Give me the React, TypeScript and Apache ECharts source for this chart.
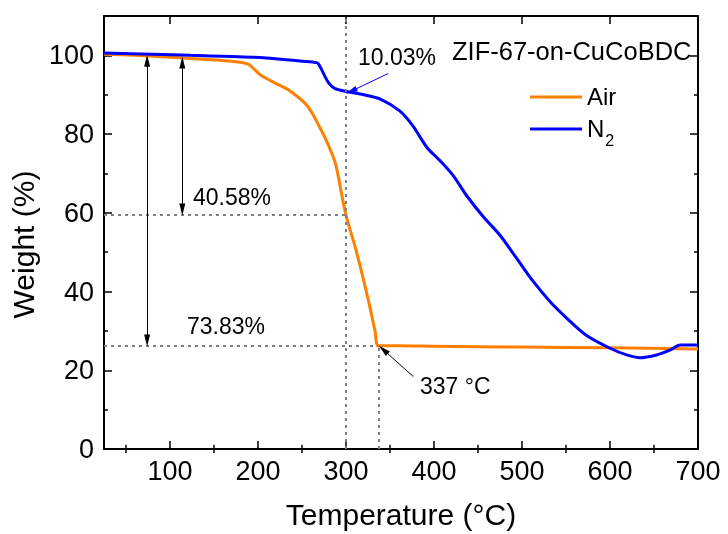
import React, { useEffect, useRef } from "react";
import * as echarts from "echarts";

const airTemp = [25, 60, 111, 153, 183, 190, 197, 204, 222, 236, 256, 270, 280, 288, 294, 300, 312, 325, 333, 337, 360, 400, 500, 600, 700];
const airWeight = [100.3, 100.0, 99.4, 98.8, 98.1, 97.6, 96.2, 94.8, 92.7, 91.0, 87.2, 81.8, 77.2, 72.5, 66.0, 59.4, 50.0, 38.2, 30.0, 26.2, 26.2, 26.1, 25.9, 25.7, 25.4];

const n2Temp = [25, 80, 123, 170, 206, 236, 262, 268, 274, 280, 287, 301, 320, 339, 361, 376, 392, 407, 422, 437, 456, 475, 494, 513, 532, 551, 573, 600, 619, 634, 653, 668, 680, 700];
const n2Weight = [100.6, 100.3, 100.0, 99.7, 99.4, 98.8, 98.3, 98.0, 95.6, 93.1, 91.6, 90.8, 90.0, 88.9, 85.9, 82.1, 76.6, 73.2, 69.4, 64.4, 59.0, 54.3, 48.4, 42.5, 37.4, 33.2, 28.9, 25.6, 23.9, 23.2, 23.9, 25.1, 26.4, 26.4];

const xMajorTicks = [100, 200, 300, 400, 500, 600, 700];
const xMinorTicks = [50, 150, 250, 350, 450, 550, 650];

const seriesNames = ["Air", "N2"];
const sampleLabel = "ZIF-67-on-CuCoBDC";

// annotation values (temperature °C, weight %)
const lossAt300 = 40.58; // air
const lossAt337 = 73.83; // air
const lossN2 = 10.03;
const residueT = 337;
const markT = 300;

const FONT = "Liberation Sans, Arial, sans-serif";

export default function App() {
  const ref = useRef<HTMLDivElement>(null);
  useEffect(() => {
    if (!ref.current) return;
    const chart = echarts.init(ref.current, null, { renderer: "svg" });
    const air = airTemp.map((t, i) => [t, airWeight[i]]);
    const n2 = n2Temp.map((t, i) => [t, n2Weight[i]]);
    const w300 = 100 - lossAt300;
    const w337 = 100 - lossAt337;

    const dotted = { type: [3, 4], color: "#7f7f7f", width: 2 };
    const black = { type: "solid", color: "#000", width: 1 };

    const tickMajor = { show: true, inside: true, length: 8, lineStyle: { color: "#000", width: 1.5 } };
    const tickMinor = { show: true, inside: true, length: 4, lineStyle: { color: "#000", width: 1.5 } };
    const axisLine = { show: true, onZero: false, lineStyle: { color: "#000", width: 2 } };

    const xBase = { type: "value", min: 25, max: 700, splitLine: { show: false } };

    chart.setOption({
      animation: false,
      textStyle: { fontFamily: FONT },
      grid: { left: 104, right: 30, top: 16, bottom: 83, containLabel: false },
      xAxis: [
        {
          ...xBase,
          position: "bottom",
          axisLine,
          axisTick: { ...tickMajor, customValues: xMajorTicks },
          axisLabel: { customValues: xMajorTicks, fontSize: 27, color: "#000", margin: 8, fontFamily: FONT },
          name: "Temperature (°C)",
          nameLocation: "middle",
          nameGap: 50,
          nameTextStyle: { fontSize: 30, color: "#000", fontFamily: FONT },
        },
        {
          ...xBase,
          position: "bottom",
          axisLine: { show: false },
          axisTick: { ...tickMinor, customValues: xMinorTicks },
          axisLabel: { show: false },
        },
        {
          ...xBase,
          position: "top",
          axisLine,
          axisTick: { ...tickMajor, customValues: xMajorTicks },
          axisLabel: { show: false },
        },
        {
          ...xBase,
          position: "top",
          axisLine: { show: false },
          axisTick: { ...tickMinor, customValues: xMinorTicks },
          axisLabel: { show: false },
        },
      ],
      yAxis: [
        {
          type: "value",
          min: 0,
          max: 110,
          interval: 20,
          position: "left",
          axisLine,
          axisTick: tickMajor,
          minorTick: { ...tickMinor, splitNumber: 2 },
          splitLine: { show: false },
          minorSplitLine: { show: false },
          axisLabel: { fontSize: 27, color: "#000", margin: 10, showMaxLabel: false, fontFamily: FONT },
          name: "Weight (%)",
          nameLocation: "middle",
          nameGap: 52,
          nameTextStyle: { fontSize: 30, color: "#000", fontFamily: FONT, padding: [0, 24, 0, 0] },
        },
        {
          type: "value",
          min: 0,
          max: 110,
          interval: 20,
          position: "right",
          axisLine,
          axisTick: tickMajor,
          minorTick: { ...tickMinor, splitNumber: 2 },
          splitLine: { show: false },
          axisLabel: { show: false },
        },
      ],
      legend: {
        data: seriesNames,
        orient: "vertical",
        left: 525,
        top: 79,
        icon: "rect",
        itemWidth: 52,
        itemHeight: 3,
        itemGap: 8,
        formatter: (name: string) => (name === "N2" ? "{b|N}{s|2}" : "{b|" + name + "}"),
        textStyle: {
          color: "#000",
          fontFamily: FONT,
          rich: {
            b: { fontSize: 24, fontFamily: FONT, color: "#000", lineHeight: 26, verticalAlign: "top" },
            s: { fontSize: 16, fontFamily: FONT, color: "#000", lineHeight: 16, padding: [16, 0, 0, 1], verticalAlign: "top" },
          },
        },
      },
      series: [
        {
          name: "guides",
          type: "line",
          data: [],
          silent: true,
          markLine: {
            silent: true,
            symbol: ["none", "none"],
            label: { show: false },
            lineStyle: dotted,
            emphasis: { disabled: true },
            data: [
              [{ coord: [markT, 0] }, { coord: [markT, 110] }],
              [{ coord: [25, w300] }, { coord: [markT, w300] }],
              [{ coord: [25, w337] }, { coord: [residueT, w337] }],
              [{ coord: [residueT, 0] }, { coord: [residueT, w337] }],
            ],
          },
        },
        {
          name: "Air",
          type: "line",
          data: air,
          showSymbol: false,
          symbol: "none",
          smooth: 0.3,
          color: "#FF8000",
          lineStyle: { color: "#FF8000", width: 3 },
          z: 3,
        },
        {
          name: "N2",
          type: "line",
          data: n2,
          showSymbol: false,
          symbol: "none",
          smooth: 0.3,
          color: "#0000FF",
          lineStyle: { color: "#0000FF", width: 3 },
          z: 4,
          markLine: {
            silent: true,
            symbol: ["none", "triangle"],
            symbolSize: [6, 12],
            label: { show: false },
            lineStyle: { type: "solid", color: "#0000FF", width: 1 },
            emphasis: { disabled: true },
            data: [[{ coord: [348, 95.4] }, { coord: [306, 90.9] }]],
          },
        },
        {
          name: "arrows",
          type: "line",
          data: [],
          silent: true,
          z: 5,
          markLine: {
            silent: true,
            symbol: ["triangle", "triangle"],
            symbolSize: [6, 12],
            label: { show: false },
            lineStyle: black,
            emphasis: { disabled: true },
            data: [
              [{ coord: [74, 98.6] }, { coord: [74, w337 + 1.4] }],
              [{ coord: [114, 98.2] }, { coord: [114, w300 + 1.4] }],
              [{ coord: [376.5, 18.4], symbol: "none" }, { coord: [342.5, 25.2] }],
            ],
          },
        },
      ],
      graphic: [
        { type: "text", left: 452, top: 38, style: { text: sampleLabel, font: "25.5px " + FONT, fill: "#000" } },
        { type: "text", left: 358, top: 45, style: { text: lossN2.toFixed(2) + "%", font: "23px " + FONT, fill: "#000" } },
        { type: "text", left: 193, top: 185, style: { text: lossAt300.toFixed(2) + "%", font: "23px " + FONT, fill: "#000" } },
        { type: "text", left: 187, top: 314, style: { text: lossAt337.toFixed(2) + "%", font: "23px " + FONT, fill: "#000" } },
        { type: "text", left: 420, top: 374, style: { text: residueT + " °C", font: "23px " + FONT, fill: "#000" } },
      ],
    });
    return () => chart.dispose();
  }, []);
  return <div ref={ref} style={{ width: 728, height: 534, position: "fixed", left: 0, top: 0 }} />;
}
